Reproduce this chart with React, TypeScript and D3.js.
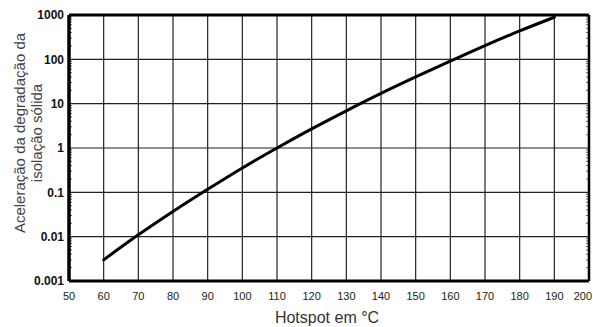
import React from "react"
import * as d3 from "d3"

// valores
const hotspot = [60, 70, 80, 90, 100, 110, 120, 130, 140, 150, 160, 170, 180, 190]
const aceleracao = [0.003, 0.011, 0.037, 0.117, 0.355, 1.0, 2.7, 6.9, 17, 40, 91, 204, 437, 890]
const xTicks = [50, 60, 70, 80, 90, 100, 110, 120, 130, 140, 150, 160, 170, 180, 190, 200]
const yTicks = [0.001, 0.01, 0.1, 1, 10, 100, 1000]
const yTickLabels = ["0.001", "0.01", "0.1", "1", "10", "100", "1000"]

const W = 593
const H = 327
const margin = { top: 15, right: 4, bottom: 46, left: 69 }

export default function App() {
  const x = d3.scaleLinear().domain([50, 200]).range([margin.left, W - margin.right])
  const y = d3.scaleLog().domain([0.001, 1000]).range([H - margin.bottom, margin.top])

  const line = d3
    .line<number>()
    .x((_, i) => x(hotspot[i]))
    .y((d) => y(d))
    .curve(d3.curveCatmullRom)

  // minor ticks 2..9 per decade
  const minor: number[] = []
  for (let e = -3; e < 3; e++) {
    for (let k = 2; k < 10; k++) minor.push(k * Math.pow(10, e))
  }

  const font = "Arial, 'Liberation Sans', sans-serif"
  const x0 = x(50)
  const x1 = x(200)
  const y0 = y(0.001)
  const y1 = y(1000)

  return (
    <svg width={W} height={H} style={{ position: "absolute", left: 0, top: 0, background: "#fff" }}>
      {/* grid */}
      {xTicks.slice(1, -1).map((t) => (
        <line key={"gx" + t} x1={x(t)} x2={x(t)} y1={y1} y2={y0} stroke="#222" strokeWidth={1.2} />
      ))}
      {yTicks.slice(1, -1).map((t) => (
        <line key={"gy" + t} x1={x0} x2={x1} y1={y(t)} y2={y(t)} stroke="#222" strokeWidth={1.2} />
      ))}
      {/* minor ticks */}
      {minor.map((t, i) => (
        <g key={"m" + i}>
          <line x1={x0} x2={x0 + 3} y1={y(t)} y2={y(t)} stroke="#333" strokeWidth={0.8} />
          <line x1={x1} x2={x1 - 3} y1={y(t)} y2={y(t)} stroke="#333" strokeWidth={0.8} />
        </g>
      ))}
      {/* frame */}
      <line x1={x0} x2={x1} y1={y1} y2={y1} stroke="#000" strokeWidth={3} />
      <line x1={x0} x2={x1} y1={y0} y2={y0} stroke="#000" strokeWidth={3} />
      <line x1={x0} x2={x0} y1={y1} y2={y0} stroke="#000" strokeWidth={3.5} />
      <line x1={x1} x2={x1} y1={y1} y2={y0} stroke="#000" strokeWidth={2.5} />
      {/* curve */}
      <path d={line(aceleracao) || ""} fill="none" stroke="#000" strokeWidth={3} strokeLinecap="round" />
      {/* y tick labels */}
      {yTicks.map((t, i) => (
        <text
          key={"yl" + t}
          x={x0 - 5}
          y={y(t)}
          dy="0.35em"
          textAnchor="end"
          fontFamily={font}
          fontSize={12}
          fontWeight="bold"
          fill="#111"
        >
          {yTickLabels[i]}
        </text>
      ))}
      {/* x tick labels */}
      {xTicks.map((t, i) => {
        const last = i === xTicks.length - 1
        return (
          <text
            key={"xl" + t}
            x={last ? W - 1 : x(t)}
            y={y0 + 19}
            textAnchor={last ? "end" : "middle"}
            fontFamily={font}
            fontSize={11}
            fill="#222"
          >
            {t}
          </text>
        )
      })}
      {/* axis titles */}
      <text x={327} y={H - 4} textAnchor="middle" fontFamily={font} fontSize={16} fill="#333">
        Hotspot em °C
      </text>
      <g transform={`translate(0, 133)`}>
        <text transform="rotate(-90)" x={0} y={25} textAnchor="middle" fontFamily={font} fontSize={15} fill="#444">
          Aceleração da degradação da
        </text>
        <text transform="rotate(-90)" x={0} y={42} textAnchor="middle" fontFamily={font} fontSize={15} fill="#444">
          isolação sólida
        </text>
      </g>
    </svg>
  )
}
